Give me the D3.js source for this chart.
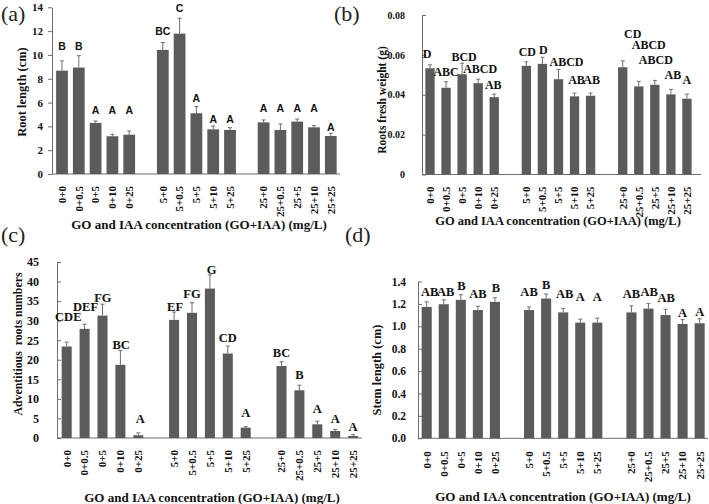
<!DOCTYPE html>
<html>
<head>
<meta charset="utf-8">
<script src="https://d3js.org/d3.v7.min.js"></script>
<style>
  body { margin: 0; background: #fff; }
  text { font-family: "Liberation Serif", "Times New Roman", serif; }
</style>
</head>
<body>
<svg id="chart" width="709" height="504"></svg>
<script>
// treatments (GO + IAA, mg/L), three groups of five
var categories = ["0+0", "0+0.5", "0+5", "0+10", "0+25",
                  "5+0", "5+0.5", "5+5", "5+10", "5+25",
                  "25+0", "25+0.5", "25+5", "25+10", "25+25"];

// (a) root length (cm)
var rootLength   = [8.68, 8.94, 4.29, 3.17, 3.30, 10.42, 11.79, 5.10, 3.75, 3.70, 4.34, 3.70, 4.40, 3.92, 3.19];
var rootLengthSE = [0.82, 1.00, 0.16, 0.16, 0.31, 0.62, 1.29, 0.56, 0.28, 0.19, 0.20, 0.50, 0.22, 0.14, 0.23];
var rootLengthLetters = ["B", "B", "A", "A", "A", "BC", "C", "A", "A", "A", "A", "A", "A", "A", "A"];

// (b) roots fresh weight (g)
var freshWeight   = [0.0533, 0.0435, 0.0503, 0.0458, 0.0388, 0.0545, 0.0555, 0.0478, 0.0392, 0.0395, 0.0538, 0.0442, 0.0450, 0.0402, 0.0380];
var freshWeightSE = [0.0017, 0.0030, 0.0055, 0.0020, 0.0015, 0.0020, 0.0033, 0.0049, 0.0016, 0.0013, 0.0032, 0.0025, 0.0022, 0.0025, 0.0023];
var freshWeightLetters = ["D", "ABC", "BCD", "ABCD", "AB", "CD", "D", "ABCD", "AB", "AB", "CD", "ABCD", "ABCD", "AB", "A"];

// (c) adventitious roots numbers
var rootNumber   = [23.4, 27.9, 31.3, 18.7, 0.7, 30.2, 32.0, 38.2, 21.6, 2.65, 18.4, 12.2, 3.5, 1.8, 0.5];
var rootNumberSE = [1.1, 1.2, 2.9, 3.7, 0.6, 2.0, 2.6, 3.5, 1.9, 0.25, 1.1, 1.3, 0.8, 0.4, 0.35];
var rootNumberLetters = ["CDE", "DEF", "FG", "BC", "A", "EF", "FG", "G", "CD", "A", "BC", "B", "A", "A", "A"];

// (d) stem length (cm)
var stemLength   = [1.173, 1.197, 1.236, 1.145, 1.218, 1.145, 1.248, 1.124, 1.033, 1.033, 1.124, 1.158, 1.100, 1.021, 1.027];
var stemLengthSE = [0.045, 0.039, 0.046, 0.034, 0.037, 0.028, 0.040, 0.036, 0.031, 0.040, 0.058, 0.045, 0.052, 0.039, 0.040];
var stemLengthLetters = ["AB", "AB", "B", "AB", "B", "AB", "B", "AB", "A", "A", "AB", "AB", "AB", "A", "A"];

// tick values
var ticksA = [0, 2, 4, 6, 8, 10, 12, 14];
var ticksB = [0, 0.02, 0.04, 0.06, 0.08];
var ticksC = [0, 5, 10, 15, 20, 25, 30, 35, 40, 45];
var ticksD = [0, 0.2, 0.4, 0.6, 0.8, 1.0, 1.2, 1.4];

var xTitle = "GO and IAA concentration (GO+IAA) (mg/L)";

// one empty slot between the three groups
var slots = [];
categories.forEach(function(c, i) {
  if (i > 0 && i % 5 === 0) slots.push("gap" + i);
  slots.push(c);
});

var svg = d3.select("#chart");
var barColor = "#5b5b5b";
var lineColor = "#6e6e6e";

function drawPanel(p) {
  var g = svg.append("g");

  var x = d3.scaleBand().domain(slots)
    .range([p.firstBar - p.step / 2, p.firstBar + p.step * (slots.length - 0.5)])
    .paddingInner(0).paddingOuter(0);
  var bw = p.step * p.barFrac;

  var y = d3.scaleLinear().domain([0, p.yMax]).range([p.yBottom, p.yTop]);

  // y axis
  var axis = d3.axisLeft(y).tickValues(p.ticks).tickFormat(p.fmt)
    .tickSizeInner(p.tickIn ? -4 : 4).tickSizeOuter(0).tickPadding(p.tickPad);
  var ag = g.append("g").attr("transform", "translate(" + p.axisX + ",0)").call(axis);
  ag.select(".domain").attr("stroke", lineColor);
  ag.selectAll(".tick line").attr("stroke", lineColor);
  ag.selectAll(".tick text")
    .attr("fill", "#111")
    .style("font-family", '"Liberation Serif", serif')
    .style("font-weight", "bold")
    .style("font-size", p.tickFont + "px");

  // baseline
  g.append("line")
    .attr("x1", p.axisX).attr("x2", p.axisEnd)
    .attr("y1", y(0)).attr("y2", y(0))
    .attr("stroke", lineColor).attr("stroke-width", 1);

  var rows = categories.map(function(c, i) {
    return { cat: c, v: p.values[i], se: p.se[i], letter: p.letters[i], i: i };
  });

  // bars
  g.selectAll(".bar").data(rows).enter().append("rect")
    .attr("x", function(d) { return x(d.cat) + (p.step - bw) / 2; })
    .attr("width", bw)
    .attr("y", function(d) { return y(d.v); })
    .attr("height", function(d) { return y(0) - y(d.v); })
    .attr("fill", barColor);

  // error bars (upper half only)
  var cx = function(d) { return x(d.cat) + p.step / 2; };
  g.selectAll(".err").data(rows).enter().append("line")
    .attr("x1", cx).attr("x2", cx)
    .attr("y1", function(d) { return y(d.v); })
    .attr("y2", function(d) { return y(d.v + d.se); })
    .attr("stroke", lineColor).attr("stroke-width", 1);
  g.selectAll(".cap").data(rows).enter().append("line")
    .attr("x1", function(d) { return cx(d) - 2; })
    .attr("x2", function(d) { return cx(d) + 2; })
    .attr("y1", function(d) { return y(d.v + d.se); })
    .attr("y2", function(d) { return y(d.v + d.se); })
    .attr("stroke", lineColor).attr("stroke-width", 1);

  // significance letters
  g.selectAll(".letter").data(rows).enter().append("text")
    .attr("x", function(d) { return cx(d) + (p.labelDx ? p.labelDx[d.i] : 0); })
    .attr("y", function(d) { return y(d.v + d.se) - p.labelGap[d.i]; })
    .attr("text-anchor", "middle")
    .style("font-family", p.letterFamily)
    .style("font-weight", "bold")
    .style("font-size", p.letterFont + "px")
    .attr("fill", "#111")
    .text(function(d) { return d.letter; });

  // category labels, rotated
  g.selectAll(".xlab").data(rows).enter().append("text")
    .attr("transform", function(d) {
      return "translate(" + (cx(d) + p.xFont * 0.35) + "," + (y(0) + p.xLabOff) + ") rotate(-90)";
    })
    .attr("text-anchor", "end")
    .style("font-weight", "bold")
    .style("font-size", p.xFont + "px")
    .attr("fill", "#111")
    .text(function(d) { return d.cat; });

  // axis titles
  g.append("text")
    .attr("x", p.xTitleX).attr("y", p.xTitleY)
    .attr("text-anchor", "middle")
    .style("font-weight", "bold")
    .style("font-size", p.titleFont + "px")
    .attr("fill", "#111")
    .text(xTitle);
  g.append("text")
    .attr("transform", "translate(" + p.yTitleX + "," + p.yTitleY + ") rotate(-90)")
    .attr("text-anchor", "middle")
    .style("font-weight", "bold")
    .style("font-size", p.yTitleFont + "px")
    .style("white-space", "pre")
    .attr("fill", "#111")
    .text(p.yTitle);

  // panel tag
  g.append("text")
    .attr("x", p.tagX).attr("y", p.tagY)
    .style("font-size", "22px")
    .attr("fill", "#222")
    .text(p.tag);
}

drawPanel({
  tag: "(a)", tagX: 1, tagY: 21,
  values: rootLength, se: rootLengthSE, letters: rootLengthLetters,
  ticks: ticksA, fmt: d3.format("d"), yMax: 14, yTop: 7.3, yBottom: 174,
  axisX: 52, axisEnd: 340, firstBar: 62, step: 16.8, barFrac: 0.7,
  tickIn: false, tickPad: 5, tickFont: 11,
  letterFamily: '"Liberation Sans", Arial, sans-serif', letterFont: 10.5,
  labelGap: [11, 5.7, 7, 20, 17, 7.7, 6, 4.7, 3, 4.7, 8, 12, 7, 13.7, 2],
  xFont: 11, xLabOff: 12,
  xTitleX: 199, xTitleY: 229, titleFont: 13,
  yTitle: "Root length (cm)", yTitleX: 26, yTitleY: 92, yTitleFont: 12.5
});

drawPanel({
  tag: "(b)", tagX: 334, tagY: 21,
  values: freshWeight, se: freshWeightSE, letters: freshWeightLetters,
  ticks: ticksB, fmt: function(d) { return d === 0 ? "0" : d3.format(".2f")(d); },
  yMax: 0.08, yTop: 15, yBottom: 174.5,
  axisX: 422, axisEnd: 701, firstBar: 430, step: 16.06, barFrac: 0.58,
  tickIn: true, tickPad: 17, tickFont: 10,
  letterFamily: '"Liberation Serif", serif', letterFont: 12,
  labelGap: [7, 6, 2.3, 6.3, 4.8, 6, 3.3, 3.7, 8.8, 8.8, 23, 32, 16, 10, 10],
  labelDx: [-3, 0, 2, 2, -1, 1, 1, 8, 2, 1, 10, 10, 1, 2, 0],
  xFont: 11, xLabOff: 12,
  xTitleX: 558, xTitleY: 225, titleFont: 12.5,
  yTitle: "Roots fresh weight (g)", yTitleX: 386, yTitleY: 100, yTitleFont: 11.5
});

drawPanel({
  tag: "(c)", tagX: 1, tagY: 242,
  values: rootNumber, se: rootNumberSE, letters: rootNumberLetters,
  ticks: ticksC, fmt: d3.format("d"), yMax: 45, yTop: 262, yBottom: 438,
  axisX: 57, axisEnd: 362, firstBar: 66.7, step: 17.9, barFrac: 0.56,
  tickIn: true, tickPad: 18, tickFont: 12,
  letterFamily: '"Liberation Serif", serif', letterFont: 12.5,
  labelGap: [21, 13, 2, 1.4, 10, 0.6, 4.7, 1.4, 4, 9.7, 4.7, 6.7, 7.7, 6, 3.2],
  labelDx: [1.6, 1, 0.4, 0.7, 2, 1, 0, 1.7, 0, 0, 0, 0, 0, 0, 0],
  xFont: 11, xLabOff: 12,
  xTitleX: 212, xTitleY: 502, titleFont: 13,
  yTitle: "Adventitious  roots numbers", yTitleX: 22, yTitleY: 344, yTitleFont: 11.8
});

drawPanel({
  tag: "(d)", tagX: 345, tagY: 242,
  values: stemLength, se: stemLengthSE, letters: stemLengthLetters,
  ticks: ticksD, fmt: d3.format(".1f"), yMax: 1.4, yTop: 281.5, yBottom: 438.3,
  axisX: 418, axisEnd: 708, firstBar: 426.7, step: 17.06, barFrac: 0.59,
  tickIn: true, tickPad: 12, tickFont: 11.5,
  letterFamily: '"Liberation Serif", serif', letterFont: 12.5,
  labelGap: [6, 4, 5, 8, 5.7, 11.4, 5, 10, 18, 17, 8, 7.6, 7, 2.6, 2.8],
  labelDx: [3, 2, 0.6, 0, 1, 0, 0, 1.4, 0, 0, 0, 0.7, 0.7, 0, 0],
  xFont: 11, xLabOff: 13,
  xTitleX: 563, xTitleY: 501, titleFont: 13,
  yTitle: "Stem length (cm)", yTitleX: 381, yTitleY: 370, yTitleFont: 12.5
});
</script>
</body>
</html>
